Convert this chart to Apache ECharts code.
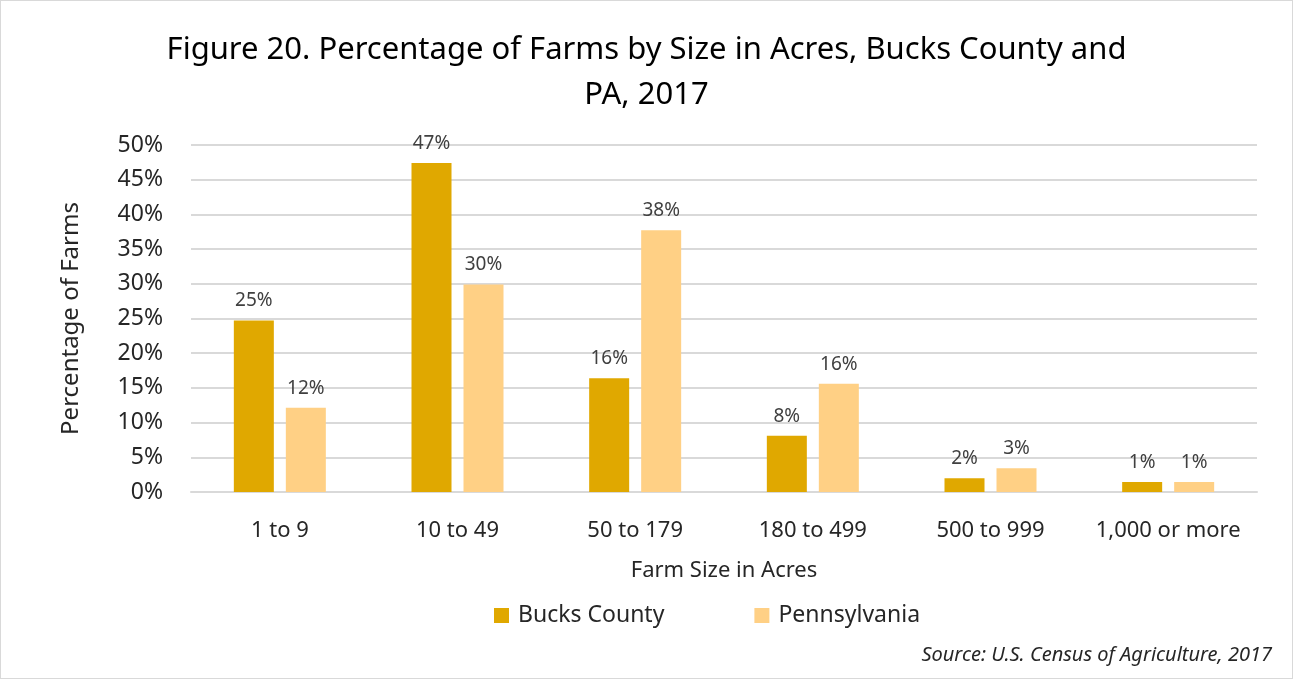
<!DOCTYPE html>
<html><head><meta charset="utf-8">
<script src="https://cdn.jsdelivr.net/npm/echarts@6/dist/echarts.min.js"></script>
<style>html,body{margin:0;padding:0;background:#fff}#c{width:1293px;height:679px;box-sizing:border-box;border:1px solid #d9d9d9}</style>
</head><body><div id="c"></div>
<script>
const categories = ["1 to 9","10 to 49","50 to 179","180 to 499","500 to 999","1,000 or more"];
const bucksCounty = [24.7, 47.4, 16.4, 8.1, 1.97, 1.44];
const pennsylvania = [12.15, 29.9, 37.7, 15.6, 3.44, 1.44];
const yTicks = {min:0, max:50, interval:5};
const FONT = "'Noto Sans', sans-serif";
const chart = echarts.init(document.getElementById('c'), null, {renderer:'canvas'});
const lbl = {show:true, position:'top', distance:10, color:'#404040', fontSize:19, fontFamily:FONT,
  formatter: p => Math.round(p.value) + '%'};
chart.setOption({
  animation:false,
  textStyle:{fontFamily:FONT},
  title:{text:"Figure 20. Percentage of Farms by Size in Acres, Bucks County and\nPA, 2017", left:'center', top:22,
    textStyle:{fontSize:31, fontWeight:'normal', color:'#000', lineHeight:45, fontFamily:FONT}},
  grid:{left:190, right:35, top:144, bottom:186, containLabel:false},
  legend:{bottom:46, left:488, itemWidth:15, itemHeight:15, itemGap:90, icon:'rect',
    textStyle:{fontSize:23, color:'#262626', fontFamily:FONT, padding:[0,0,0,4]}},
  graphic:[{type:'text', right:20, top:644, style:{text:'Source: U.S. Census of Agriculture, 2017', fontSize:20, fontStyle:'italic', fill:'#262626', fontFamily:FONT}}],
  xAxis:{type:'category', data:categories, axisTick:{show:false},
    axisLine:{lineStyle:{color:'#d9d9d9', width:2}},
    axisLabel:{interval:0, fontSize:22, color:'#262626', margin:28, fontFamily:FONT},
    name:'Farm Size in Acres', nameLocation:'middle', nameGap:68,
    nameTextStyle:{fontSize:22, color:'#262626', fontFamily:FONT}},
  yAxis:{type:'value', min:yTicks.min, max:yTicks.max, interval:yTicks.interval,
    axisLabel:{formatter:'{value}%', fontSize:23, color:'#262626', margin:28, fontFamily:FONT},
    splitLine:{lineStyle:{color:'#d9d9d9', width:2}},
    axisLine:{show:false}, axisTick:{show:false},
    name:'Percentage of Farms', nameLocation:'middle', nameGap:108,
    nameTextStyle:{fontSize:24, color:'#262626', fontFamily:FONT}},
  series:[
    {name:'Bucks County', type:'bar', data:bucksCounty, barWidth:40, barGap:'30%', itemStyle:{color:'#E0A800'}, label:lbl},
    {name:'Pennsylvania', type:'bar', data:pennsylvania, barWidth:40, itemStyle:{color:'#FFD085'}, label:lbl}
  ]
});
</script></body></html>
